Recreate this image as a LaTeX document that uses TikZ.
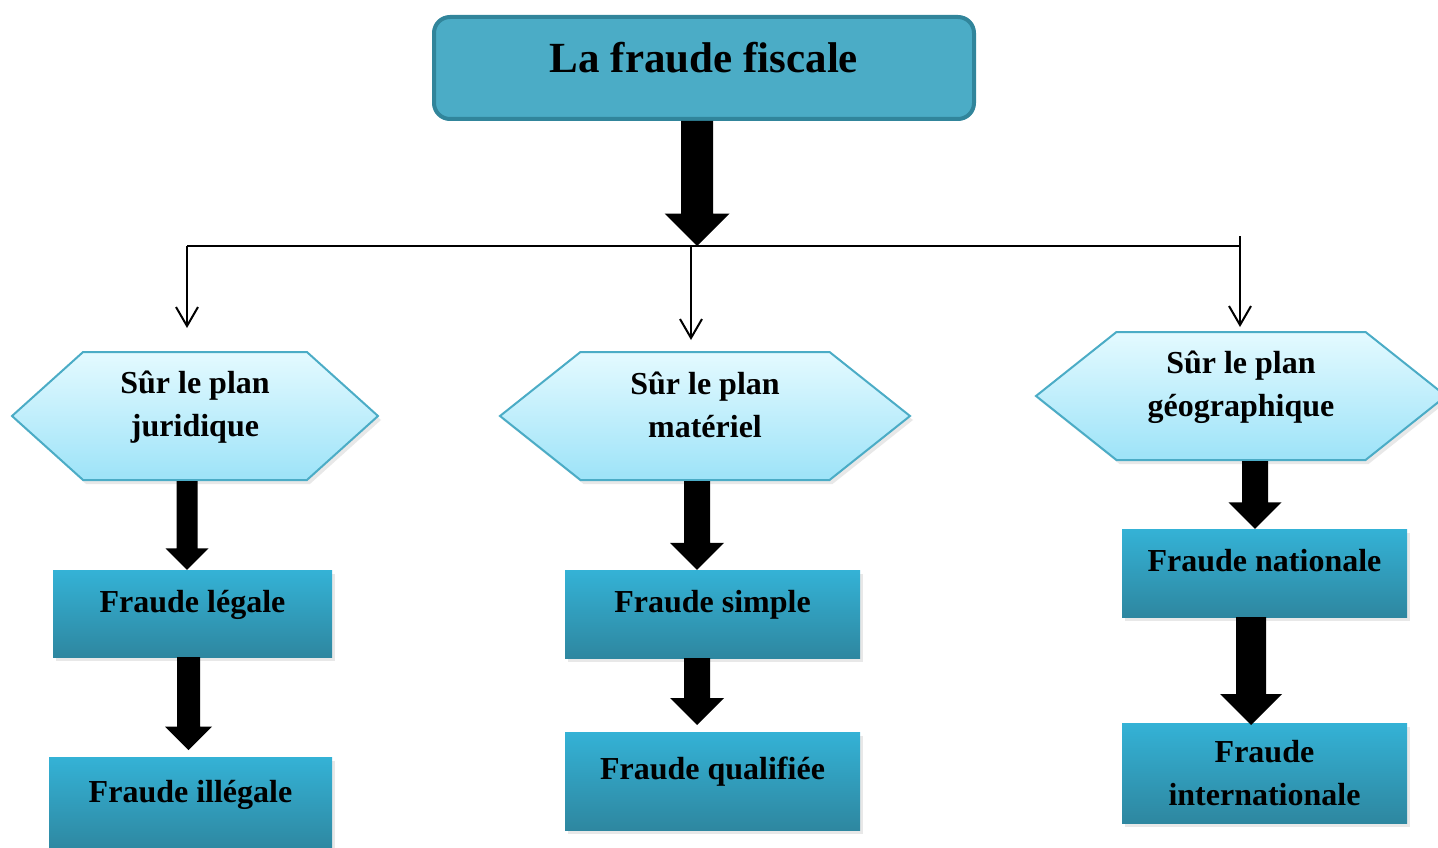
\documentclass[tikz,border=0pt]{standalone}
\usepackage{fontspec}
\setmainfont{Liberation Serif}
\usetikzlibrary{arrows.meta, calc, shapes.symbols, shadows, positioning}

\definecolor{titlefill}{RGB}{75,172,198}
\definecolor{titledraw}{RGB}{49,133,155}
\definecolor{hextop}{RGB}{228,250,255}
\definecolor{hexbot}{RGB}{157,227,248}
\definecolor{hexdraw}{RGB}{75,172,198}
\definecolor{boxtop}{RGB}{52,178,214}
\definecolor{boxbot}{RGB}{46,135,160}

\tikzset{
  titlebox/.style={draw=titledraw, line width=4pt, fill=titlefill, rounded corners=16pt,
    minimum width=540pt, minimum height=102pt, inner sep=0pt,
    font=\fontsize{43}{50}\selectfont\bfseries, text height=31pt, text depth=21pt},
  planbox/.style={signal, signal to=east and west, signal pointer angle=84,
    draw=hexdraw, line width=2pt, top color=hextop, bottom color=hexbot,
    minimum width=366pt, minimum height=128pt, inner sep=0pt,
    drop shadow={shadow xshift=3pt, shadow yshift=-4pt, opacity=0.18}},
  wideplan/.style={planbox, minimum width=410pt, signal pointer angle=77},
  plantext/.style={font=\fontsize{32}{43}\selectfont\bfseries, align=center, yshift=9pt, inner sep=0pt},
  fraudebox/.style={top color=boxtop, bottom color=boxbot, inner sep=0pt,
    font=\fontsize{32}{43}\selectfont\bfseries, align=center,
    drop shadow={shadow xshift=3pt, shadow yshift=-4pt, opacity=0.18}},
  onebox/.style={fraudebox, text height=24pt, text depth=27pt},
  link/.style={line width=2pt, -{Straight Barb[length=19pt,width=22pt]}},
}

% block arrow: start, tip, half shaft, half head
\newcommand{\bigarrow}[4]{%
  \fill let \p1=(#1), \p2=(#2) in
    (\x1-#3,\y1) -- (\x1+#3,\y1) -- (\x1+#3,\y2+#4) -- (\x1+#4,\y2+#4) --
    (\x1,\y2) -- (\x1-#4,\y2+#4) -- (\x1-#3,\y2+#4) -- cycle;}

\begin{document}
\begin{tikzpicture}[x=1pt,y=-1pt]
\useasboundingbox (0,0) rectangle (1438,848);

\node[titlebox] (fraude) at (704,68) {La fraude fiscale};

\node[planbox, label={[plantext]center:{Sûr le plan\\juridique}}] (juri) at (195,416) {};
\node[wideplan, label={[plantext, yshift=2pt]center:{Sûr le plan\\matériel}}] (mat) at (705,416) {};
\node[wideplan, label={[plantext]center:{Sûr le plan\\géographique}}] (geo) at (1241,396) {};

\node[onebox, minimum width=279pt, minimum height=87pt] (legale) at (192.5,613.5) {Fraude légale};
\node[onebox, minimum width=283pt, minimum height=94pt] (illegale) at (190.5,804) {Fraude illégale};
\node[onebox, minimum width=295pt, minimum height=88pt] (simple) at (712.5,614) {Fraude simple};
\node[onebox, minimum width=295pt, minimum height=98pt] (qualif) at (712.5,781) {Fraude qualifiée};
\node[onebox, minimum width=285pt, minimum height=88pt] (nationale) at (1264.5,573) {Fraude nationale};
\node[fraudebox, minimum width=285pt, minimum height=100pt] (inter) at (1264.5,773) {Fraude\\internationale};

% thin branches
\coordinate (split) at (697,246);
\coordinate (brL) at (187,246);
\coordinate (brM) at (691,246);
\coordinate (brR) at (1240,246);
\coordinate (brTop) at (1240,236);
\coordinate (juriIn) at (187,328);
\coordinate (matIn) at (691,340);
\coordinate (geoIn) at (1240,327);
\draw[line width=2pt] (brL) -- (brR);
\draw[link] (brL) -- (juriIn);
\draw[link] (brM) -- (matIn);
\draw[link] (brTop) -- (geoIn);

% block arrows
\bigarrow{697,0 |- fraude.south}{split}{16pt}{32.5pt}
\bigarrow{187,0 |- juri.south}{187,0 |- legale.north}{10.5pt}{21.5pt}
\bigarrow{188.5,0 |- legale.south}{188.5,750}{11.5pt}{23.5pt}
\bigarrow{697,0 |- mat.south}{697,0 |- simple.north}{13pt}{27pt}
\bigarrow{697,0 |- simple.south}{697,725}{13pt}{27pt}
\bigarrow{1255,0 |- geo.south}{1255,0 |- nationale.north}{13pt}{26.5pt}
\bigarrow{1251,0 |- nationale.south}{1251,725}{15pt}{31pt}
\end{tikzpicture}
\end{document}
